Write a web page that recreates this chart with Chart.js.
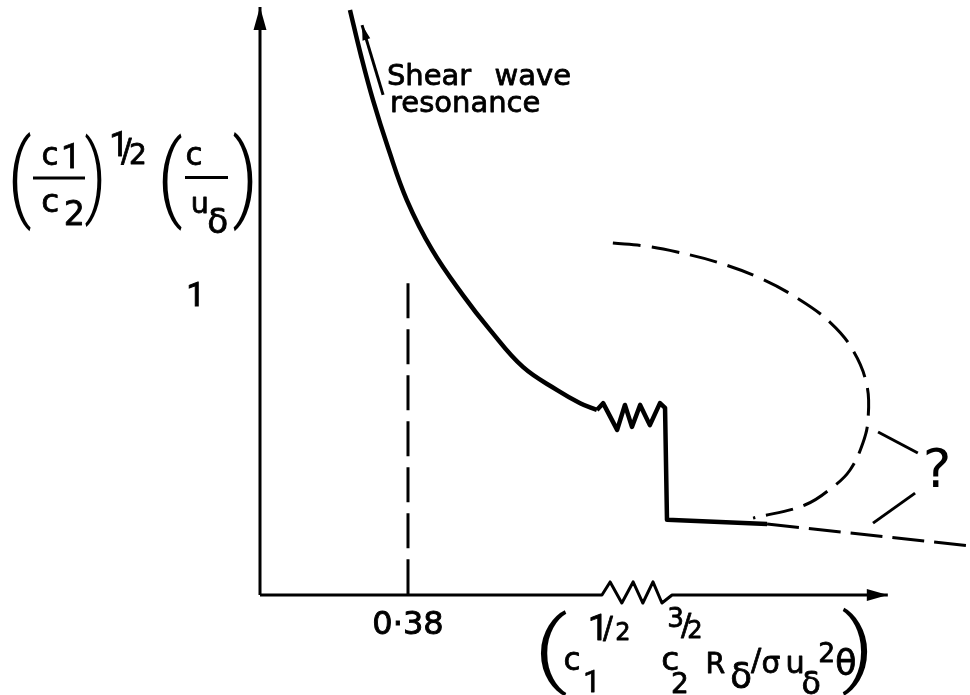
<!DOCTYPE html>
<html>
<head>
<meta charset="utf-8">
<title>Shear wave resonance</title>
<script src="https://cdn.jsdelivr.net/npm/chart.js@4/dist/chart.umd.min.js"></script>
<style>
  html, body { margin: 0; padding: 0; background: #fff; }
  #chart { display: block; }
</style>
</head>
<body>
<canvas id="chart" width="970" height="695"></canvas>
<script>
const ink = '#000';
const FONT = '"DejaVu Sans", sans-serif';
const ONE_FONT = 'Roboto, "DejaVu Sans", sans-serif';
const PAREN_FONT = '300 100px Roboto, "DejaVu Sans", sans-serif';

// axis extents
const xMax = 1.823;
const yMax = 1.98;
const xAxisEnd = 1.612;

// tick labels
const xTicks = [0.38];
const xTickLabels = ['0·38'];
const yTicks = [1];
const yTickLabels = ['1'];

// main curve, falling from shear wave resonance
const curveX = [0.231, 0.259, 0.290, 0.329, 0.377, 0.442, 0.521, 0.591, 0.675, 0.763, 0.822, 0.865];
const curveY = [1.970, 1.818, 1.667, 1.505, 1.330, 1.162, 1.010, 0.892, 0.768, 0.690, 0.646, 0.623];

// ripple, drop and lower branch
const rippleX = [0.865, 0.881, 0.917, 0.937, 0.955, 0.976, 1.001, 1.027, 1.040, 1.045, 1.302];
const rippleY = [0.623, 0.646, 0.556, 0.640, 0.566, 0.640, 0.572, 0.646, 0.630, 0.253, 0.239];

// uncertain continuation of the lower branch
const tailX = [1.302, 1.823];
const tailY = [0.239, 0.165];

// uncertain upper branch looping back
const loopX = [0.906, 0.988, 1.071, 1.173, 1.284, 1.379, 1.463, 1.522, 1.558, 1.561, 1.548, 1.515, 1.471, 1.399, 1.266];
const loopY = [1.185, 1.175, 1.155, 1.121, 1.067, 1.000, 0.919, 0.825, 0.707, 0.589, 0.512, 0.421, 0.364, 0.303, 0.259];

// marker at 0.38
const markX = [0.38, 0.38];
const markY = [1.05, 0];

// ripple drawn on the x axis
const axisZigX = [0.878, 0.899, 0.929, 0.958, 0.983, 1.009, 1.032, 1.058];
const axisZigY = [0, 0.044, -0.027, 0.044, -0.027, 0.044, -0.027, 0];

// pointers to the question mark
const queryUpX = [1.587, 1.689];
const queryUpY = [0.549, 0.478];
const queryLowX = [1.574, 1.682];
const queryLowY = [0.242, 0.343];

// resonance arrow and its note
const noteArrowX = [0.316, 0.262];
const noteArrowY = [1.684, 1.919];
const noteLines = ['Shear wave', 'resonance'];
const noteX = [0.326, 0.334];
const noteY = [1.717, 1.626];
const queryAt = { x: 1.702, y: 0.364 };

function pts(xs, ys) {
  return xs.map((x, i) => ({ x, y: ys[i] }));
}

function line(xs, ys, extra) {
  return Object.assign({
    data: pts(xs, ys),
    showLine: true,
    borderColor: ink,
    borderWidth: 3,
    pointRadius: 0,
    tension: 0
  }, extra || {});
}

const datasets = [
  line([0, 0], [0, yMax], { arrowHead: { length: 23, width: 13 }, clip: false }),
  line([0].concat(axisZigX, [xAxisEnd]), [0].concat(axisZigY, [0]),
       { arrowHead: { length: 21, width: 12 }, clip: false }),
  line(markX, markY, { borderDash: [35, 11] }),
  line(curveX, curveY, { borderWidth: 4.5, tension: 0.4 }),
  line(rippleX, rippleY, { borderWidth: 4.5 }),
  line(tailX, tailY, { borderDash: [32, 10] }),
  line(loopX, loopY, { borderDash: [28, 11], tension: 0.4 }),
  line(queryUpX, queryUpY),
  line(queryLowX, queryLowY),
  line(noteArrowX, noteArrowY, { borderWidth: 3, arrowHead: { length: 15, width: 8 } })
];

// filled arrowheads at the end of any dataset that asks for one
const arrowHeads = {
  id: 'arrowHeads',
  afterDatasetsDraw(chart) {
    const c = chart.ctx;
    chart.data.datasets.forEach((ds, i) => {
      if (!ds.arrowHead) return;
      const el = chart.getDatasetMeta(i).data;
      const tip = el[el.length - 1];
      const from = el[el.length - 2];
      const a = Math.atan2(tip.y - from.y, tip.x - from.x);
      const { length, width } = ds.arrowHead;
      c.save();
      c.translate(tip.x, tip.y);
      c.rotate(a);
      c.beginPath();
      c.moveTo(0, 0);
      c.lineTo(-length, width / 2);
      c.lineTo(-length, -width / 2);
      c.closePath();
      c.fillStyle = ink;
      c.fill();
      c.restore();
    });
  }
};

// place a glyph by its ink box (left, top, height); a thin outline thickens the strokes
function place(c, s, left, top, h, family) {
  const fam = family || FONT;
  c.font = '100px ' + fam;
  const m = c.measureText(s);
  const k = h / (m.actualBoundingBoxAscent + m.actualBoundingBoxDescent);
  c.font = (100 * k) + 'px ' + fam;
  const x = left + m.actualBoundingBoxLeft * k;
  const y = top + m.actualBoundingBoxAscent * k;
  c.fillText(s, x, y);
  c.strokeText(s, x, y);
}

// digit one, centred on cx
function one(c, cx, top, h) {
  c.font = '100px ' + ONE_FONT;
  const m = c.measureText('1');
  const k = h / (m.actualBoundingBoxAscent + m.actualBoundingBoxDescent);
  const w = (m.actualBoundingBoxLeft + m.actualBoundingBoxRight) * k;
  place(c, '1', cx - w / 2, top, h, ONE_FONT);
}

// stretch a bracket to fill a box
function bracket(c, s, left, top, right, bottom) {
  c.font = PAREN_FONT;
  const m = c.measureText(s);
  const w = m.actualBoundingBoxLeft + m.actualBoundingBoxRight;
  const h = m.actualBoundingBoxAscent + m.actualBoundingBoxDescent;
  const sx = (right - left) / w;
  const sy = (bottom - top) / h;
  c.save();
  c.translate(left + m.actualBoundingBoxLeft * sx, top + m.actualBoundingBoxAscent * sy);
  c.scale(sx, sy);
  c.fillText(s, 0, 0);
  c.restore();
}

const lettering = {
  id: 'lettering',
  afterDraw(chart) {
    const c = chart.ctx;
    const xs = chart.scales.x;
    const ys = chart.scales.y;
    c.save();
    c.fillStyle = ink;
    c.strokeStyle = ink;
    c.lineWidth = 0.8;
    c.lineJoin = 'round';
    c.textAlign = 'left';
    c.textBaseline = 'alphabetic';

    // y axis title: (c1/c2)^1/2 (c/u_delta)
    bracket(c, '(', 12, 131, 31, 232);
    place(c, 'c', 43, 147, 18);
    one(c, 69, 143, 25);
    c.fillRect(33, 176.5, 52, 3);
    place(c, 'c', 43, 193, 19);
    place(c, '2', 66, 200, 25);
    bracket(c, ')', 85, 132, 102, 228);
    one(c, 117, 131, 25);
    place(c, '/', 121, 138, 26);
    place(c, '2', 131, 143, 21);
    bracket(c, '(', 162, 132, 182, 232);
    place(c, 'c', 187, 147, 18);
    c.fillRect(185, 176, 43, 3);
    place(c, 'u', 193, 197, 16);
    place(c, 'δ', 209, 207, 26);
    bracket(c, ')', 233, 130, 253, 232);

    // x axis title: (c1^1/2 c2^3/2 R_delta / sigma u_delta^2 theta)
    bracket(c, '(', 540, 610, 567, 697);
    one(c, 596, 613, 27);
    place(c, '/', 603, 617, 24);
    place(c, '2', 617, 622, 18);
    place(c, 'c', 565, 652, 18);
    one(c, 590, 670, 22);
    place(c, '3', 669, 607, 20);
    place(c, '/', 681, 613, 25);
    place(c, '2', 689, 620, 18);
    place(c, 'c', 663, 651, 19);
    place(c, '2', 673, 672, 21);
    place(c, 'R', 708, 652, 21);
    place(c, 'δ', 732, 661, 27);
    place(c, '/', 751, 648, 25);
    place(c, 'σ', 763, 656, 17);
    place(c, 'u', 788, 656, 17);
    place(c, 'δ', 803, 670, 24);
    place(c, '2', 820, 642, 20);
    place(c, 'θ', 837, 648, 27);
    bracket(c, ')', 842, 607, 868, 696);

    // note beside the resonance arrow
    c.font = '29px ' + FONT;
    c.wordSpacing = '14px';
    noteLines.forEach((t, i) => {
      const x = xs.getPixelForValue(noteX[i]);
      const y = ys.getPixelForValue(noteY[i]);
      c.fillText(t, x, y);
      c.strokeText(t, x, y);
    });
    c.wordSpacing = '0px';

    // question mark on the uncertain branches
    c.font = '54px ' + FONT;
    c.fillText('?', xs.getPixelForValue(queryAt.x), ys.getPixelForValue(queryAt.y));
    c.restore();
  }
};

new Chart(document.getElementById('chart').getContext('2d'), {
  type: 'scatter',
  data: { datasets },
  options: {
    responsive: false,
    animation: false,
    events: [],
    layout: { padding: { top: 7, right: 0, bottom: 0, left: 0 } },
    plugins: { legend: { display: false }, tooltip: { enabled: false } },
    elements: {
      point: { radius: 0 },
      line: { borderCapStyle: 'butt', borderJoinStyle: 'round' }
    },
    scales: {
      x: {
        type: 'linear',
        min: 0,
        max: xMax,
        afterFit(s) {
          s.height = 100;
          s.paddingLeft = 0;
          s.paddingRight = 0;
        },
        afterBuildTicks(s) { s.ticks = xTicks.map(v => ({ value: v })); },
        ticks: {
          callback: (v, i) => xTickLabels[i],
          padding: 11,
          color: ink,
          textStrokeColor: ink,
          textStrokeWidth: 0.9,
          font: { family: FONT, size: 32 },
          maxRotation: 0,
          autoSkip: false
        },
        grid: { display: false, drawTicks: false },
        border: { display: false }
      },
      y: {
        type: 'linear',
        min: 0,
        max: yMax,
        afterFit(s) {
          s.width = 260;
          s.paddingTop = 0;
          s.paddingBottom = 0;
        },
        afterBuildTicks(s) { s.ticks = yTicks.map(v => ({ value: v })); },
        ticks: {
          callback: (v, i) => yTickLabels[i],
          padding: 55,
          color: ink,
          textStrokeColor: ink,
          textStrokeWidth: 1,
          font: { family: ONE_FONT, size: 33 },
          autoSkip: false
        },
        grid: { display: false, drawTicks: false },
        border: { display: false }
      }
    }
  },
  plugins: [arrowHeads, lettering]
});
</script>
</body>
</html>
